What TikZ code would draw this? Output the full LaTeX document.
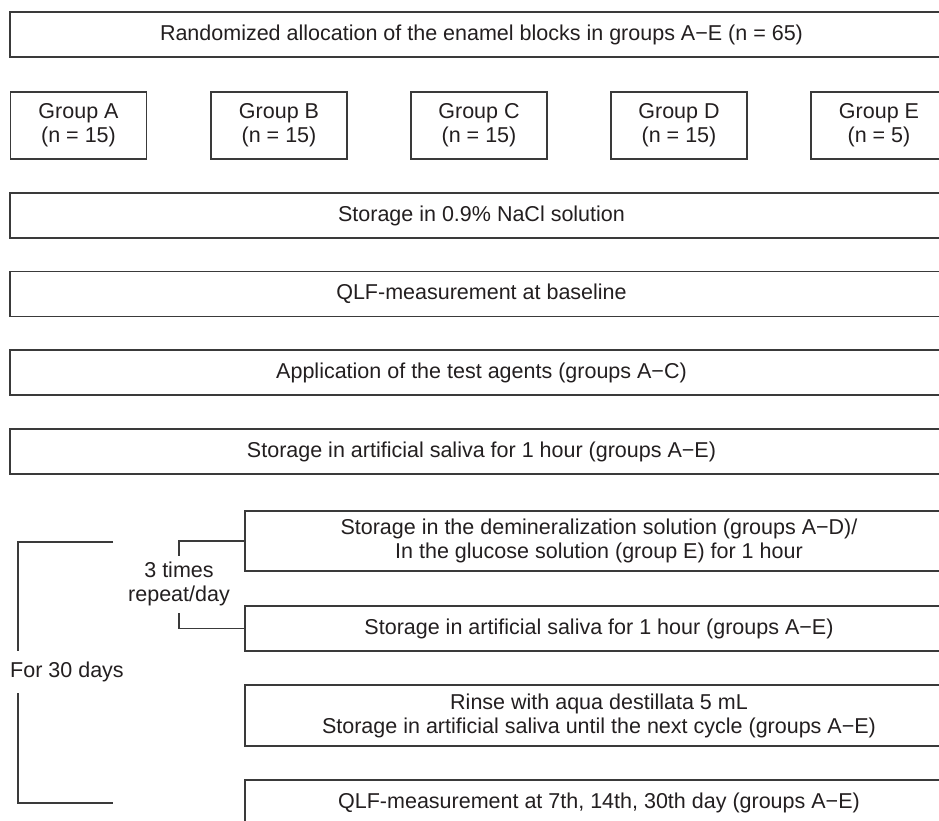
\documentclass[tikz,border=0pt]{standalone}
\usepackage{fontspec}
\setmainfont{Liberation Sans}
\definecolor{linec}{HTML}{3A3A3A}
\definecolor{textc}{HTML}{231F20}
\tikzset{
  box/.style={draw=linec, line width=1.5pt, inner sep=0pt, align=center, text=textc,
    font=\fontsize{21.5}{24}\selectfont},
  wide/.style={box, minimum width=943pt, minimum height=45pt},
  rbox/.style={box, minimum width=708pt},
  gbox/.style={box, minimum width=136pt, minimum height=67pt},
  conn/.style={draw=linec, line width=1.5pt},
  lbl/.style={text=textc, align=center, inner sep=0pt, font=\fontsize{21.5}{24.5}\selectfont}
}
\begin{document}
\begin{tikzpicture}[x=1pt,y=-1pt]
\useasboundingbox (0,0) rectangle (939,820);
\clip (0,0) rectangle (939,820);
\fill[white] (0,0) rectangle (939,820);
\node[wide] (r1) at (481.5,34.5) {Randomized allocation of the enamel blocks in groups A−E (n = 65)};
\node[gbox] (gA) at (78.5,125.5) {Group A\\(n = 15)};
\node[gbox] (gB) at (279,125.5) {Group B\\(n = 15)};
\node[gbox] (gC) at (479,125.5) {Group C\\(n = 15)};
\node[gbox] (gD) at (679,125.5) {Group D\\(n = 15)};
\node[gbox] (gE) at (879,125.5) {Group E\\(n = 5)};
\node[wide] (nacl) at (481.5,215.5) {Storage in 0.9\% NaCl solution};
\node[wide] (qlf0) at (481.5,294) {QLF-measurement at baseline};
\node[wide] (appl) at (481.5,372.5) {Application of the test agents (groups A−C)};
\node[wide] (sal1) at (481.5,451.5) {Storage in artificial saliva for 1 hour (groups A−E)};
\node[rbox, minimum height=60pt] (demin) at (599,541) {Storage in the demineralization solution (groups A−D)/\\In the glucose solution (group E) for 1 hour};
\node[rbox, minimum height=45pt] (sal2) at (599,628.5) {Storage in artificial saliva for 1 hour (groups A−E)};
\node[rbox, minimum height=61pt] (rinse) at (599,715.5) {Rinse with aqua destillata 5 mL\\Storage in artificial saliva until the next cycle (groups A−E)};
\node[rbox, minimum height=45pt] (qlf2) at (599,802.5) {QLF-measurement at 7th, 14th, 30th day (groups A−E)};
% inner bracket
\node[lbl] (rep) at (179,584) {3 times\\repeat/day};
\coordinate (i1) at (179,541);
\coordinate (i2) at (179,556);
\coordinate (i3) at (179,613);
\coordinate (i4) at (179,628.5);
\draw[conn] (demin.west) -- (i1) -- (i2);
\draw[conn] (i3) -- (i4) -- (sal2.west);
% outer bracket
\node[lbl] (days) at (67,672) {For 30 days};
\coordinate (o1) at (113,542);
\coordinate (o2) at (18,542);
\coordinate (o3) at (18,651);
\coordinate (o4) at (18,693);
\coordinate (o5) at (18,803);
\coordinate (o6) at (113,803);
\draw[conn] (o1) -- (o2) -- (o3);
\draw[conn] (o4) -- (o5) -- (o6);
\end{tikzpicture}
\end{document}
